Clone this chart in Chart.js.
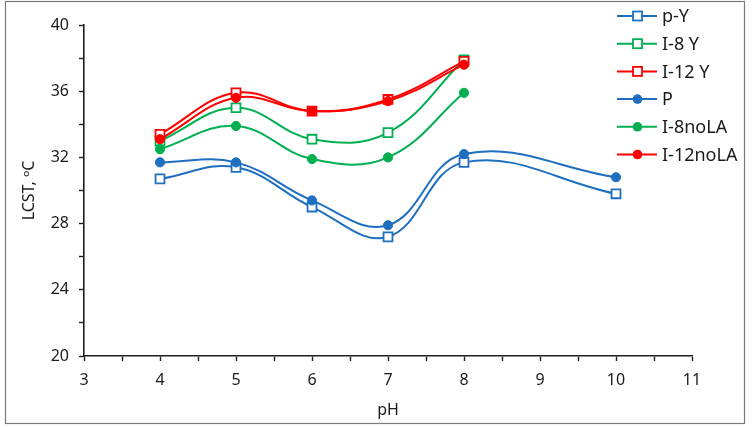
<!DOCTYPE html>
<html>
<head>
<meta charset="utf-8">
<script src="https://cdn.jsdelivr.net/npm/chart.js@4.4.0/dist/chart.umd.min.js"></script>
<style>
html, body { margin: 0; padding: 0; background: #fff; }
#wrap { width: 752px; height: 427px; }
</style>
</head>
<body>
<div id="wrap"><canvas id="chart" width="752" height="427"></canvas></div>
<script>
// pH values (x) and LCST values (y)
const phAll = [4, 5, 6, 7, 8, 10];
const phShort = [4, 5, 6, 7, 8];

const pY = [30.7, 31.4, 29.0, 27.2, 31.7, 29.8];
const i8Y = [33.0, 35.0, 33.1, 33.5, 37.9];
const i12Y = [33.4, 35.9, 34.8, 35.5, 37.8];
const pNoLA = [31.7, 31.7, 29.4, 27.9, 32.2, 30.8];
const i8NoLA = [32.5, 33.9, 31.9, 32.0, 35.9];
const i12NoLA = [33.1, 35.6, 34.8, 35.4, 37.6];

const seriesNames = ['p-Y', 'I-8 Y', 'I-12 Y', 'P', 'I-8noLA', 'I-12noLA'];

const blue = '#1f6fc0';
const green = '#00b050';
const red = '#ff0000';

function toPoints(xs, ys) {
    let pts = [];
    for (let i = 0; i < ys.length; i++) {
        pts.push({x: xs[i], y: ys[i]});
    }
    return pts;
}

function makeSet(label, xs, ys, color, hollow, order) {
    return {
        label: label,
        data: toPoints(xs, ys),
        borderColor: color,
        backgroundColor: hollow ? '#ffffff' : color,
        pointBackgroundColor: hollow ? '#ffffff' : color,
        pointBorderColor: color,
        pointStyle: hollow ? 'rect' : 'circle',
        pointRadius: hollow ? 6.3 : 4.6,
        pointBorderWidth: hollow ? 1.8 : 1,
        borderWidth: 2,
        tension: 0.4,
        fill: false,
        order: order
    };
}

const datasets = [
    makeSet(seriesNames[0], phAll, pY, blue, true, 6),
    makeSet(seriesNames[1], phShort, i8Y, green, true, 5),
    makeSet(seriesNames[2], phShort, i12Y, red, true, 4),
    makeSet(seriesNames[3], phAll, pNoLA, blue, false, 3),
    makeSet(seriesNames[4], phShort, i8NoLA, green, false, 2),
    makeSet(seriesNames[5], phShort, i12NoLA, red, false, 1)
];

// frame round the whole picture + legend on the right
const framePlugin = {
    id: 'frame',
    afterDraw(chart) {
        let ctx = chart.ctx;
        ctx.save();
        ctx.strokeStyle = '#7a7a7a';
        ctx.lineWidth = 1.2;
        ctx.strokeRect(5.5, 1.5, 739, 422);

        ctx.font = '18px "Noto Sans"';
        ctx.textBaseline = 'middle';
        for (let i = 0; i < datasets.length; i++) {
            let ds = datasets[i];
            let y = 16 + i * 27.7;
            ctx.strokeStyle = ds.borderColor;
            ctx.lineWidth = 2;
            ctx.beginPath();
            ctx.moveTo(617, y);
            ctx.lineTo(657, y);
            ctx.stroke();
            if (ds.pointStyle === 'rect') {
                ctx.fillStyle = '#ffffff';
                ctx.lineWidth = 1.8;
                ctx.fillRect(633, y - 4.5, 9, 9);
                ctx.strokeRect(633, y - 4.5, 9, 9);
            } else {
                ctx.fillStyle = ds.borderColor;
                ctx.beginPath();
                ctx.arc(637.5, y, 4.8, 0, Math.PI * 2);
                ctx.fill();
            }
            ctx.fillStyle = '#1a1a1a';
            ctx.fillText(ds.label, 662, y + 1);
        }
        ctx.restore();
    }
};

const axisColor = '#1f1f1f';
const tickFont = {family: '"Noto Sans"', size: 16};

new Chart(document.getElementById('chart').getContext('2d'), {
    type: 'line',
    data: {datasets: datasets},
    plugins: [framePlugin],
    options: {
        responsive: false,
        animation: false,
        layout: {padding: {left: 0, right: 60, top: 25, bottom: 0}},
        plugins: {
            legend: {display: false},
            tooltip: {enabled: false}
        },
        scales: {
            x: {
                type: 'linear',
                min: 3,
                max: 11,
                afterFit: function (scale) { scale.height = 71; },
                ticks: {
                    stepSize: 0.5,
                    autoSkip: false,
                    maxRotation: 0,
                    padding: 10,
                    color: '#1a1a1a',
                    font: tickFont,
                    callback: function (v) { return Number.isInteger(v) ? String(v) : ''; }
                },
                grid: {drawOnChartArea: false, tickLength: 5, tickColor: axisColor, tickWidth: 1.4},
                border: {color: axisColor, width: 1.6},
                title: {display: true, text: 'pH', color: '#1a1a1a', font: tickFont, padding: {top: 0, bottom: 7}}
            },
            y: {
                min: 20,
                max: 40,
                afterFit: function (scale) { scale.width = 84; },
                ticks: {
                    stepSize: 2,
                    padding: 10,
                    color: '#1a1a1a',
                    font: tickFont,
                    callback: function (v) { return v % 4 === 0 ? String(v) : ''; }
                },
                grid: {drawOnChartArea: false, tickLength: 5, tickColor: axisColor, tickWidth: 1.4},
                border: {color: axisColor, width: 1.6},
                title: {display: true, text: 'LCST, ᵒC', color: '#1a1a1a', font: tickFont, padding: {top: 20, bottom: 0}}
            }
        }
    }
});
</script>
</body>
</html>
